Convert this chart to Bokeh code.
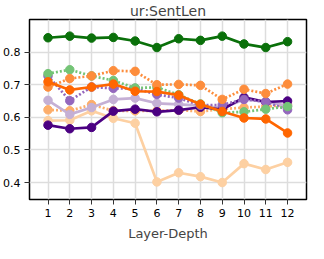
from bokeh.plotting import figure
from bokeh.embed import file_html
from bokeh.resources import INLINE
from bokeh.models import Range1d, FixedTicker

layers = [1, 2, 3, 4, 5, 6, 7, 8, 9, 10, 11, 12]

dark_green = [0.844, 0.849, 0.843, 0.845, 0.834, 0.814, 0.841, 0.836, 0.849, 0.825, 0.814, 0.832]
orange_solid = [0.709, 0.684, 0.693, 0.702, 0.680, 0.679, 0.668, 0.640, 0.618, 0.598, 0.595, 0.552]
orange_dot = [0.693, 0.719, 0.727, 0.743, 0.741, 0.700, 0.701, 0.698, 0.655, 0.686, 0.673, 0.702]
lorange_dot = [0.623, 0.620, 0.639, 0.620, 0.620, 0.620, 0.622, 0.618, 0.625, 0.630, 0.633, 0.638]
peach_solid = [0.590, 0.591, 0.620, 0.597, 0.582, 0.402, 0.430, 0.418, 0.400, 0.458, 0.440, 0.462]
green_dot = [0.734, 0.746, 0.727, 0.713, 0.690, 0.692, 0.669, 0.641, 0.614, 0.617, 0.625, 0.633]
purple_dot = [0.727, 0.651, 0.693, 0.689, 0.689, 0.670, 0.659, 0.637, 0.638, 0.655, 0.648, 0.623]
lpurple_solid = [0.652, 0.609, 0.630, 0.655, 0.659, 0.643, 0.640, 0.636, 0.628, 0.655, 0.648, 0.635]
dpurple_solid = [0.576, 0.565, 0.569, 0.619, 0.625, 0.617, 0.622, 0.631, 0.624, 0.661, 0.647, 0.650]

series = [
    (peach_solid, "#fdd0a2", "solid"),
    (lorange_dot, "#fdae6b", "2 2"),
    (lpurple_solid, "#c5b0d5", "solid"),
    (dpurple_solid, "#4b0082", "solid"),
    (purple_dot, "#9467bd", "2 2"),
    (green_dot, "#74c476", "2 2"),
    (orange_dot, "#fd8d3c", "2 2"),
    (orange_solid, "#ff6600", "solid"),
    (dark_green, "#0a700a", "solid"),
]

p = figure(width=308, height=243, output_backend="svg", toolbar_location=None,
           x_range=Range1d(0.15, 12.87), y_range=Range1d(0.348, 0.90),
           title="ur:SentLen", min_border_left=28, min_border_right=2,
           min_border_top=0, min_border_bottom=0)

p.title.align = "center"
p.title.text_font = "DejaVu Sans"
p.title.text_font_size = "14px"
p.title.text_font_style = "normal"
p.title.standoff = 1
p.title.offset = 0

for vals, color, dash in series:
    p.line(layers, vals, line_color=color, line_width=2.7, line_dash=dash)
    p.scatter(layers, vals, size=8.5, fill_color=color, line_color=color)

p.xaxis.ticker = FixedTicker(ticks=layers)
p.yaxis.ticker = FixedTicker(ticks=[0.4, 0.5, 0.6, 0.7, 0.8])
p.xaxis.axis_label = "Layer-Depth"
for ax in (p.xaxis, p.yaxis):
    ax.axis_label_text_font = "DejaVu Sans"
    ax.axis_label_text_font_size = "13px"
    ax.axis_label_text_font_style = "normal"
    ax.axis_label_standoff = 6
    ax.major_label_text_font = "DejaVu Sans"
    ax.major_label_text_font_size = "11px"
    ax.major_label_text_color = "black"
    ax.axis_line_color = None
    ax.major_tick_line_color = "#333333"
    ax.major_tick_out = 5
    ax.major_tick_in = 0
    ax.minor_tick_line_color = None
    ax.major_label_standoff = 4

p.xgrid.grid_line_color = "#dddddd"
p.ygrid.grid_line_color = "#dddddd"
p.xgrid.grid_line_width = 1.5
p.ygrid.grid_line_width = 1.5
p.outline_line_color = "black"
p.outline_line_width = 1.5
p.outline_line_alpha = 1.0

open("out.html", "w").write(file_html(p, INLINE))
